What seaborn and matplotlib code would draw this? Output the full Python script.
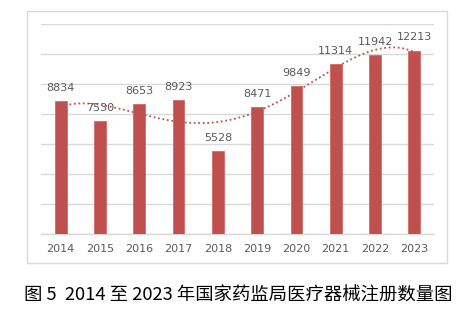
import numpy as np
import pandas as pd
import matplotlib
matplotlib.use("Agg")
import matplotlib.pyplot as plt
from matplotlib.patches import Rectangle
import seaborn as sns

years = ["2014", "2015", "2016", "2017", "2018", "2019", "2020", "2021", "2022", "2023"]
registrations = [8834, 7530, 8653, 8923, 5528, 8471, 9849, 11314, 11942, 12213]
caption = "图 5  2014 至 2023 年国家药监局医疗器械注册数量图"

sns.set_theme(style="white")
plt.rcParams["font.family"] = ["DejaVu Sans"]

bar_color = "#C0504D"
grid_color = "#D9D9D9"
text_grey = "#595959"

df = pd.DataFrame({"year": years, "count": registrations})

fig = plt.figure(figsize=(4.77, 3.22), dpi=100)
ax = fig.add_axes([41 / 477, 1 - 234 / 322, (434 - 41) / 477, 210 / 322])

sns.barplot(data=df, x="year", y="count", color=bar_color, width=0.3,
            saturation=1, edgecolor="#D46A67", linewidth=0.6, ax=ax, zorder=3)

# polynomial trendline through the yearly counts
xs = np.arange(len(registrations))
coef = np.polyfit(xs, registrations, 4)
xf = np.linspace(0, len(registrations) - 1, 300)
ax.plot(xf, np.polyval(coef, xf), linestyle=(0, (1, 1.5)), color=bar_color,
        linewidth=1.3, zorder=4)

for i, v in enumerate(registrations):
    ax.annotate(f"{v}", (i, v), xytext=(0, 6), textcoords="offset points",
                ha="center", va="bottom", fontsize=8, color=text_grey, zorder=5)

ax.set_ylim(0, 14000)
ax.set_xlim(-0.5, len(years) - 0.5)
ax.set_yticks(np.arange(0, 14001, 2000))
ax.yaxis.grid(True, color=grid_color, linewidth=1)
ax.set_axisbelow(True)
ax.set_yticklabels([])
ax.tick_params(axis="y", length=0)
ax.tick_params(axis="x", length=0, labelsize=8, labelcolor=text_grey, pad=7)
ax.set_xlabel("")
ax.set_ylabel("")
for side in ["top", "left", "right"]:
    ax.spines[side].set_visible(False)
ax.spines["bottom"].set_color(grid_color)
ax.spines["bottom"].set_linewidth(1)

# chart frame
fig.patches.append(Rectangle((27 / 477, 1 - 263 / 322), (447 - 27) / 477, (263 - 11) / 322,
                             transform=fig.transFigure, fill=False,
                             edgecolor=grid_color, linewidth=1))

fig.text(0.5, 1 - 296 / 322, caption, ha="center", va="center", fontsize=13.2,
         color="black", family=["Noto Sans CJK SC", "DejaVu Sans"])

fig.savefig("out.png", dpi=100)
